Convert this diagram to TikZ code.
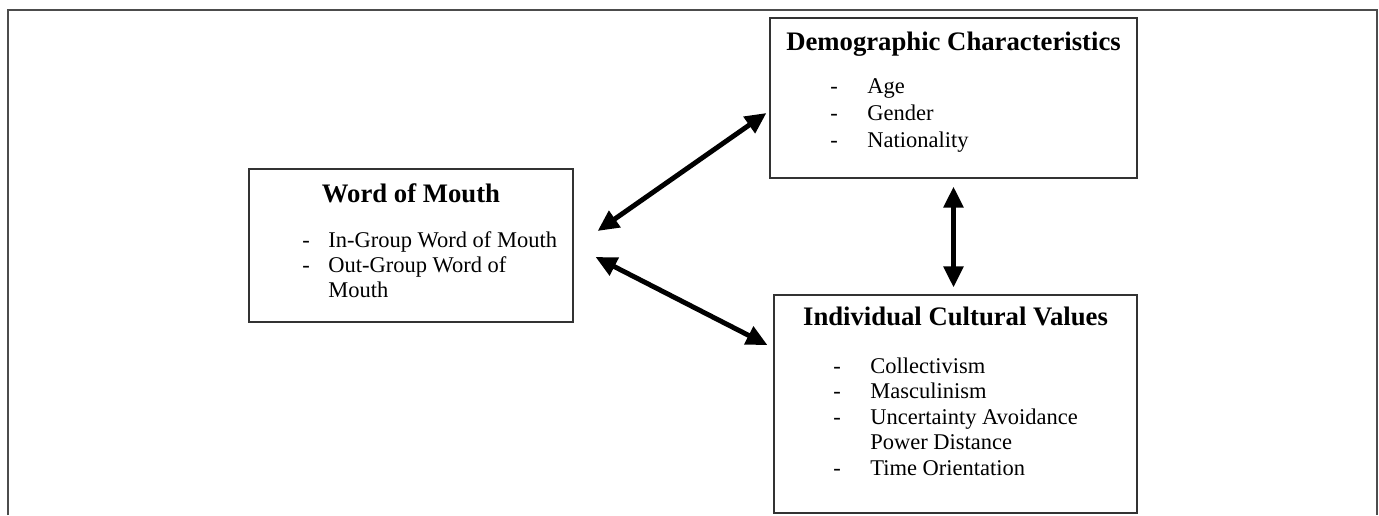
\documentclass[tikz,border=0pt]{standalone}
\usepackage{fontspec}
\setmainfont{Liberation Serif}
\usetikzlibrary{arrows.meta,calc,positioning}
\tikzset{
  every node/.style={font=\fontsize{12.8}{15}\selectfont, inner sep=0pt},
  frame/.style={draw=black!70, line width=1.1pt},
  box/.style={draw=black!80, line width=0.7pt},
  heading/.style={font=\fontsize{15.2}{18}\selectfont\bfseries, anchor=base},
  item/.style={anchor=base west},
  link/.style={{Triangle[length=12pt,width=11pt]}-{Triangle[length=12pt,width=11pt]}, line width=2.8pt, draw=black},
}

\begin{document}
\begin{tikzpicture}[x=0.02cm,y=-0.02cm]
  \useasboundingbox (0,0) rectangle (1379,515);
  % Outer frame (open at the bottom)
  \draw[frame] (8,515) -- (8,10) -- (1377,10) -- (1377,515);
  % Boxes
  \node[box, minimum width=6.48cm, minimum height=3.06cm] (wom) at (411,245.5) {};
  \node[box, minimum width=7.34cm, minimum height=3.2cm] (demo) at (953.5,98) {};
  \node[box, minimum width=7.26cm, minimum height=4.36cm] (ivals) at (955.5,404) {};
  % Headings
  \node[heading] (womTitle) at (411,202) {Word of Mouth};
  \node[heading] (demoTitle) at (953.5,50) {Demographic Characteristics};
  \node[heading] (ivalsTitle) at (955.5,325) {Individual Cultural Values};
  % Word of mouth items
  \foreach \txt/\dash [count=\i] in {In-Group Word of Mouth/-, Out-Group Word of/-, Mouth/} {
    \node[item] (womDash-\i) at (302,{247+25*(\i-1)}) {\dash};
    \node[item] (womItem-\i) at (328,{247+25*(\i-1)}) {\txt};
  }
  % Demographic items
  \foreach \txt [count=\i] in {Age, Gender, Nationality} {
    \node[item] (demoDash-\i) at (830,{93+27*(\i-1)}) {-};
    \node[item] (demoItem-\i) at (867,{93+27*(\i-1)}) {\txt};
  }
  % Cultural value items
  \foreach \txt/\dash [count=\i] in {Collectivism/-, Masculinism/-, Uncertainty Avoidance/-, Power Distance/, Time Orientation/-} {
    \node[item] (ivalsDash-\i) at (833,{373+25.5*(\i-1)}) {\dash};
    \node[item] (ivalsItem-\i) at (870,{373+25.5*(\i-1)}) {\txt};
  }
  % Two-way links
  \draw[link] ($(wom.east)+(24,-14.5)$) -- ($(demo.west)+(-3,15)$);
  \draw[link] ($(wom.east)+(22,11.5)$) -- ($(ivals.west)+(-6,-59)$);
  \draw[link] ($(demo.south)+(0,8)$) -- ($(demo.south |- ivals.north)+(0,-7)$);
\end{tikzpicture}
\end{document}
